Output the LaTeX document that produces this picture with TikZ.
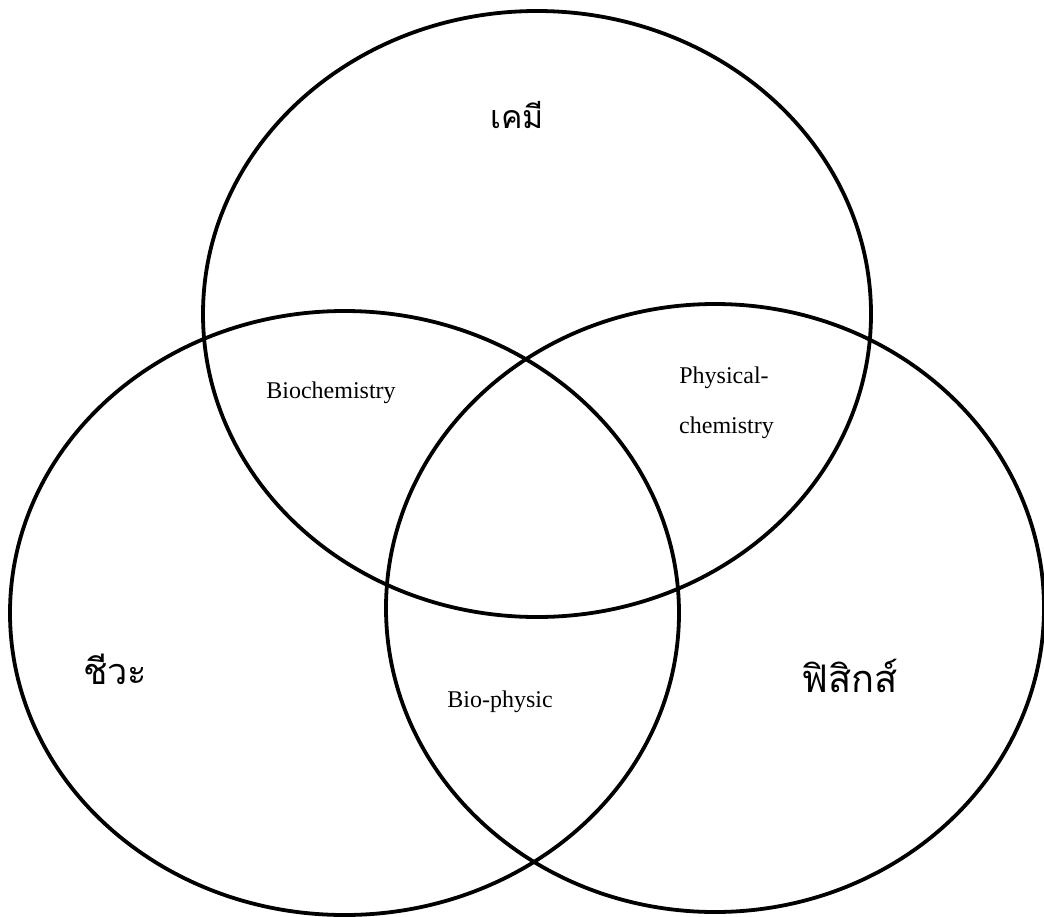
\documentclass[tikz,border=0pt]{standalone}
\usepackage{fontspec}
\setmainfont{Liberation Serif}
\newfontfamily\thaifont[Script=Thai]{Loma}
\usetikzlibrary{shapes.geometric}
\begin{document}
\begin{tikzpicture}[x=1pt,y=-1pt,
  setcircle/.style={ellipse,draw=black,line width=3.8pt,inner sep=0pt,outer sep=0pt},
  engl/.style={font=\fontsize{24}{26}\selectfont,inner sep=0pt,anchor=base},
  thai/.style={inner sep=0pt,anchor=base}]
\useasboundingbox (0,0) rectangle (1044,916);
\node[setcircle,minimum width=668pt,minimum height=606pt] (chem) at (537,314) {};
\node[setcircle,minimum width=669pt,minimum height=604pt] (bio) at (344.5,613) {};
\node[setcircle,minimum width=658pt,minimum height=608pt] (phys) at (715,608) {};
\node[thai,font=\thaifont\fontsize{32}{34}\selectfont] (tchem) at (517,128) {เคมี};
\node[thai,font=\thaifont\fontsize{36}{38}\selectfont] (tbio) at (115,684) {ชีวะ};
\node[thai,font=\thaifont\fontsize{38}{40}\selectfont] (tphys) at (850,692) {ฟิสิกส์};
\node[engl] (biochem) at (331,398) {Biochemistry};
\node[engl] (physa) at (724,383) {Physical-};
\node[engl] (physb) at (726.5,433) {chemistry};
\node[engl] (biophys) at (500,707) {Bio-physic};
\end{tikzpicture}
\end{document}
